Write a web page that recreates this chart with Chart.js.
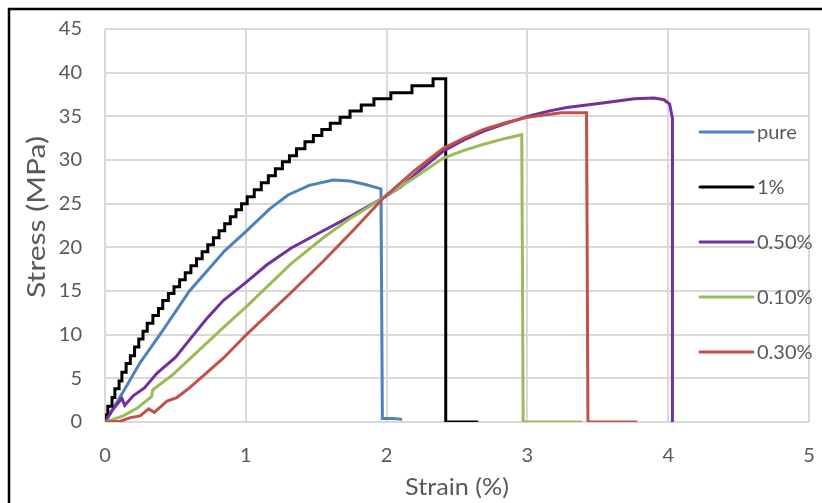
<!DOCTYPE html>
<html>
<head>
<meta charset="utf-8">
<script src="https://cdn.jsdelivr.net/npm/chart.js@4"></script>
<style>
  body { margin: 0; background: #ffffff; }
  #wrap { width: 822px; height: 503px; position: relative; }
</style>
</head>
<body>
<div id="wrap"><canvas id="chart" width="822" height="503"></canvas></div>
<script>
// Series labels and colours (legend order)
const seriesNames = ['pure', '1%', '0.50%', '0.10%', '0.30%'];
const seriesColors = ['#4F81BD', '#000000', '#7030A0', '#9BBB59', '#C0504D'];

// Axis ticks
const xTicks = [0, 1, 2, 3, 4, 5];
const yTicks = [0, 5, 10, 15, 20, 25, 30, 35, 40, 45];

// pure
const pureStrain = [0, 0.13, 0.25, 0.39, 0.5, 0.6, 0.72, 0.85, 1.0, 1.17, 1.3, 1.45, 1.62, 1.74, 1.85, 1.96, 1.97, 2.05, 2.11];
const pureStress = [0, 3.5, 6.8, 10.0, 12.6, 15.0, 17.2, 19.6, 21.8, 24.4, 26.0, 27.1, 27.7, 27.6, 27.2, 26.7, 0.4, 0.4, 0.3];

// 1% (load cell steps)
const onePctStrain = [0, 0.02, 0.05, 0.07, 0.10, 0.12, 0.15, 0.18, 0.21, 0.24, 0.27, 0.30, 0.34, 0.38, 0.41, 0.45, 0.49, 0.53, 0.57, 0.61, 0.65, 0.69, 0.73, 0.77, 0.81, 0.85, 0.89, 0.93, 0.97, 1.01, 1.06, 1.11, 1.16, 1.21, 1.26, 1.31, 1.36, 1.42, 1.48, 1.54, 1.60, 1.67, 1.74, 1.82, 1.91, 2.03, 2.18, 2.33, 2.42, 2.42, 2.65];
const onePctStress = [0, 0.8, 1.8, 2.8, 3.8, 4.7, 5.7, 6.7, 7.6, 8.6, 9.5, 10.4, 11.3, 12.2, 13.0, 13.9, 14.7, 15.5, 16.3, 17.1, 17.9, 18.7, 19.5, 20.3, 21.1, 21.9, 22.7, 23.5, 24.3, 25.0, 25.8, 26.6, 27.4, 28.2, 29.0, 29.8, 30.5, 31.3, 32.1, 32.8, 33.5, 34.2, 34.9, 35.6, 36.3, 37.0, 37.7, 38.5, 39.3, 0, 0];

// 0.50%
const halfPctStrain = [0, 0.05, 0.12, 0.14, 0.2, 0.28, 0.37, 0.5, 0.6, 0.72, 0.84, 1.01, 1.15, 1.32, 1.55, 1.75, 1.98, 2.1, 2.25, 2.4, 2.55, 2.69, 2.85, 3.0, 3.15, 3.28, 3.52, 3.76, 3.9, 3.97, 4.01, 4.03, 4.03];
const halfPctStress = [0, 1.3, 2.7, 1.9, 3.0, 3.9, 5.6, 7.4, 9.4, 11.8, 13.9, 16.1, 18.0, 19.9, 21.9, 23.6, 25.7, 26.9, 29.0, 31.0, 32.3, 33.3, 34.2, 35.0, 35.6, 36.0, 36.5, 37.0, 37.1, 36.9, 36.4, 34.8, 0];

// 0.10%
const tenthPctStrain = [0, 0.13, 0.23, 0.33, 0.34, 0.48, 0.6, 0.84, 1.01, 1.32, 1.55, 1.75, 1.98, 2.2, 2.4, 2.55, 2.69, 2.85, 2.96, 2.97, 3.39];
const tenthPctStress = [0, 0.7, 1.6, 2.9, 3.7, 5.4, 7.2, 10.8, 13.3, 18.1, 21.1, 23.4, 25.7, 28.0, 30.2, 31.1, 31.8, 32.5, 32.9, 0, 0];

// 0.30%
const thirdPctStrain = [0, 0.11, 0.18, 0.25, 0.31, 0.35, 0.44, 0.51, 0.6, 0.84, 1.01, 1.32, 1.55, 1.76, 1.98, 2.2, 2.4, 2.55, 2.69, 2.85, 3.0, 3.24, 3.42, 3.43, 3.78];
const thirdPctStress = [0, 0.1, 0.5, 0.7, 1.5, 1.1, 2.4, 2.8, 3.9, 7.3, 10.1, 14.8, 18.4, 21.9, 25.7, 28.8, 31.3, 32.5, 33.5, 34.3, 34.9, 35.4, 35.4, 0, 0];

const strainSets = [pureStrain, onePctStrain, halfPctStrain, tenthPctStrain, thirdPctStrain];
const stressSets = [pureStress, onePctStress, halfPctStress, tenthPctStress, thirdPctStress];

const TEXT_GRAY = '#595959';
const GRID_GRAY = '#D9D9D9';

function toPoints(xs, ys) {
    return xs.map((x, i) => ({ x: x, y: ys[i] }));
}

// Titles, legend and frame are drawn by hand so they sit where Excel put them
const decorations = {
    id: 'decorations',
    afterDraw(chart) {
        const ctx = chart.ctx;
        ctx.save();

        // outer frame (top and left edges only are in view)
        ctx.strokeStyle = '#000000';
        ctx.lineWidth = 2.5;
        ctx.beginPath();
        ctx.moveTo(9, 503);
        ctx.lineTo(9, 9);
        ctx.lineTo(822, 9);
        ctx.stroke();

        // axis titles (stretched a little along the text to match the Calibri widths)
        ctx.fillStyle = TEXT_GRAY;
        ctx.textAlign = 'center';
        ctx.textBaseline = 'middle';
        ctx.font = '24px Lato';
        ctx.translate(457, 487);
        ctx.scale(1.05, 1);
        ctx.fillText('Strain (%)', 0, 0);
        ctx.setTransform(1, 0, 0, 1, 0, 0);

        ctx.font = '25px Lato';
        ctx.translate(37, 217);
        ctx.rotate(-Math.PI / 2);
        ctx.scale(1.2, 1);
        ctx.fillText('Stress (MPa)', 0, 0);
        ctx.setTransform(1, 0, 0, 1, 0, 0);

        // legend
        ctx.font = '20px Lato';
        ctx.textAlign = 'left';
        ctx.lineWidth = 3;
        ctx.lineCap = 'round';
        seriesNames.forEach((name, i) => {
            const y = 132 + i * 55;
            ctx.strokeStyle = seriesColors[i];
            ctx.beginPath();
            ctx.moveTo(700, y);
            ctx.lineTo(753, y);
            ctx.stroke();
            ctx.fillStyle = TEXT_GRAY;
            ctx.fillText(name, 757, y + 1);
        });
        ctx.restore();
    }
};

function buildChart() {
    Chart.defaults.font.family = 'Lato';

    const datasets = seriesNames.map((name, i) => ({
        label: name,
        data: toPoints(strainSets[i], stressSets[i]),
        borderColor: seriesColors[i],
        borderWidth: 3,
        pointRadius: 0,
        tension: 0,
        fill: false,
        stepped: i === 1 ? 'after' : false,
        order: seriesNames.length - i
    }));

    new Chart(document.getElementById('chart'), {
        type: 'line',
        data: { datasets: datasets },
        options: {
            responsive: false,
            animation: false,
            layout: { padding: { top: 29, right: 13, left: 0, bottom: 0 } },
            plugins: {
                legend: { display: false },
                tooltip: { enabled: false }
            },
            scales: {
                x: {
                    type: 'linear',
                    min: 0,
                    max: 5,
                    // fixed box, and no label overhang padding
                    afterFit: (scale) => {
                        scale.height = 81;
                        scale.paddingLeft = 0;
                        scale.paddingRight = 0;
                    },
                    afterBuildTicks: (scale) => { scale.ticks = xTicks.map(v => ({ value: v })); },
                    ticks: { color: TEXT_GRAY, font: { size: 20 }, padding: 22 },
                    grid: { color: GRID_GRAY, lineWidth: 2, drawTicks: false },
                    border: { display: false }
                },
                y: {
                    type: 'linear',
                    min: 0,
                    max: 45,
                    afterFit: (scale) => {
                        scale.width = 105;
                        scale.paddingTop = 0;
                        scale.paddingBottom = 0;
                    },
                    afterBuildTicks: (scale) => { scale.ticks = yTicks.map(v => ({ value: v })); },
                    ticks: { color: TEXT_GRAY, font: { size: 20 }, padding: 23 },
                    grid: { color: GRID_GRAY, lineWidth: 2, drawTicks: false },
                    border: { display: false }
                }
            }
        },
        plugins: [decorations]
    });
}

buildChart();
</script>
</body>
</html>
